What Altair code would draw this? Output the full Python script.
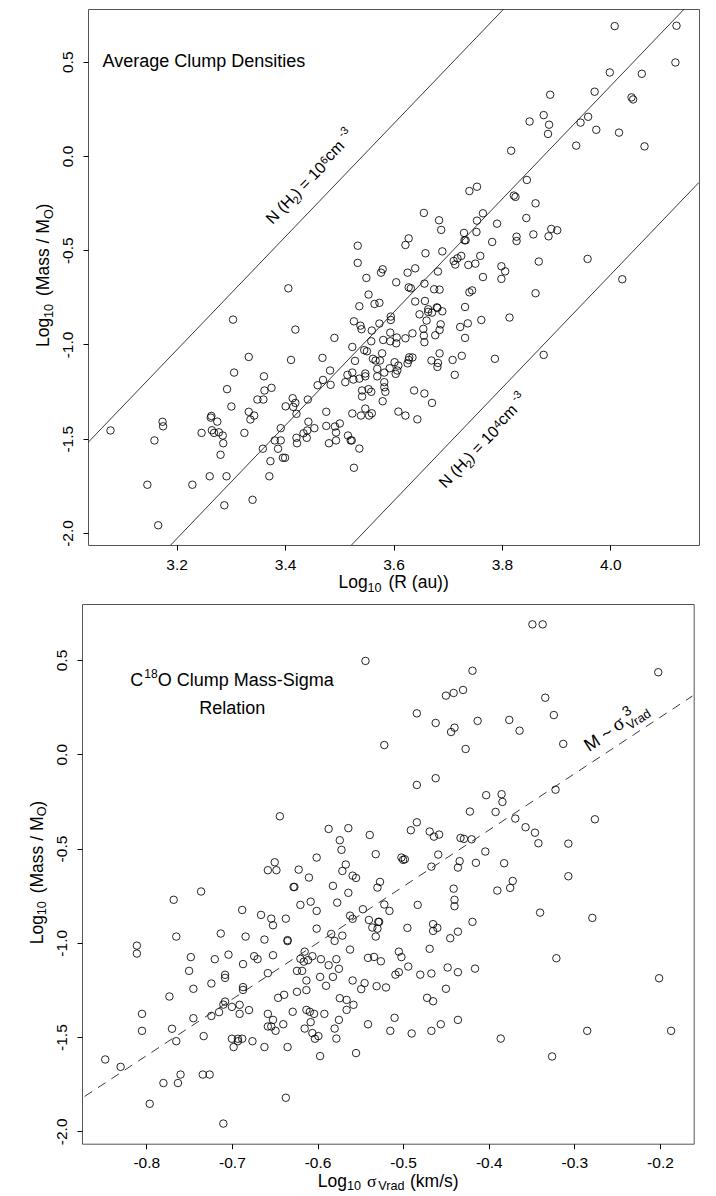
import altair as alt
import pandas as pd

FONT = 'Liberation Sans'
SERIF = 'Liberation Serif'

# top panel: clump radius vs mass
radius_log = [
    4.008, 4.122, 4.120, 3.999, 4.058, 3.971, 4.039, 4.042, 3.889, 3.877,
    3.851, 3.887, 3.885, 3.959, 3.945, 3.974, 4.016, 3.937, 4.063, 3.817,
    3.846, 3.754, 3.740, 3.822, 3.825, 3.862, 3.656, 3.765, 3.684, 3.754,
    3.845, 3.791, 3.688, 3.730, 3.753, 3.891, 3.902, 3.858, 3.886, 3.827,
    3.827, 3.628, 3.622, 3.731, 3.733, 3.782, 3.690, 3.659, 3.958, 3.725,
    3.760, 3.718, 3.711, 3.714, 3.751, 3.738, 3.868, 3.799, 3.806, 3.640,
    3.580, 3.577, 3.626, 3.682, 3.765, 3.799, 3.550, 3.605, 4.022, 3.657,
    3.628, 3.632, 3.675, 3.685, 3.745, 3.740, 3.862, 3.554, 3.406, 3.534,
    3.534, 3.565, 3.574, 3.537, 3.527, 3.539, 3.541, 3.560, 3.574, 3.595,
    3.595, 3.491, 3.559, 3.524, 3.546, 3.581, 3.594, 3.594, 3.606, 3.605,
    3.622, 3.635, 3.655, 3.656, 3.657, 3.685, 3.687, 3.677, 3.723, 3.737,
    3.762, 3.732, 3.732, 3.648, 3.661, 3.640, 3.658, 3.664, 3.664, 3.671,
    3.680, 3.681, 3.690, 3.469, 3.483, 3.470, 3.460, 3.484, 3.511, 3.529,
    3.551, 3.579, 3.562, 3.567, 3.575, 3.602, 3.609, 3.593, 3.570, 3.583,
    3.607, 3.604, 3.570, 3.635, 3.629, 3.628, 3.626, 3.670, 3.685, 3.682,
    3.681, 3.709, 3.726, 3.713, 3.515, 3.524, 3.548, 3.548, 3.526, 3.537,
    3.583, 3.583, 3.585, 3.542, 3.554, 3.559, 3.542, 3.638, 3.657, 3.671,
    3.580, 3.548, 3.476, 3.524, 3.540, 3.555, 3.560, 3.609, 3.622, 3.644,
    3.476, 3.492, 3.501, 3.494, 3.516, 3.521, 3.523, 3.494, 3.481, 3.537,
    3.527, 3.304, 3.419, 3.333, 3.411, 3.306, 3.361, 3.293, 3.362, 3.375,
    3.349, 3.360, 3.414, 3.419, 3.442, 3.401, 3.415, 3.301, 3.333, 3.421,
    3.264, 3.263, 3.343, 3.336, 3.275, 3.174, 3.175, 3.443, 3.454, 3.078,
    3.265, 3.269, 3.278, 3.285, 3.246, 3.325, 3.392, 3.441, 3.434, 3.421,
    3.440, 3.381, 3.392, 3.159, 3.286, 3.422, 3.359, 3.387, 3.281, 3.396,
    3.400, 3.373, 3.261, 3.292, 3.371, 3.146, 3.229, 3.340, 3.288, 3.166,
    3.877, 3.787, 3.814,
]
radius_mass = [
    0.689, 0.691, 0.496, 0.443, 0.436, 0.341, 0.311, 0.300, 0.325, 0.217,
    0.183, 0.166, 0.117, 0.208, 0.177, 0.139, 0.124, 0.055, 0.051, 0.028,
    -0.127, -0.163, -0.186, -0.210, -0.217, -0.251, -0.302, -0.304, -0.341, -0.343,
    -0.329, -0.359, -0.392, -0.408, -0.403, -0.387, -0.394, -0.416, -0.426, -0.428,
    -0.451, -0.437, -0.472, -0.447, -0.447, -0.456, -0.506, -0.516, -0.546, -0.530,
    -0.530, -0.543, -0.557, -0.576, -0.571, -0.578, -0.560, -0.585, -0.612, -0.596,
    -0.601, -0.619, -0.619, -0.613, -0.642, -0.652, -0.647, -0.670, -0.654, -0.677,
    -0.697, -0.702, -0.707, -0.709, -0.713, -0.723, -0.728, -0.735, -0.702, -0.476,
    -0.567, -0.785, -0.779, -0.797, -0.877, -0.900, -0.919, -0.926, -0.889, -0.852,
    -0.870, -0.965, -0.983, -1.013, -1.030, -0.976, -0.937, -0.983, -0.963, -0.994,
    -0.967, -0.941, -0.917, -0.953, -0.988, -0.923, -0.893, -0.951, -0.907, -0.888,
    -0.870, -0.965, -0.801, -0.840, -0.873, -0.772, -0.769, -0.813, -0.827, -0.831,
    -0.803, -0.806, -0.824, -1.071, -1.138, -1.188, -1.216, -1.214, -1.200, -1.087,
    -1.036, -1.047, -1.076, -1.085, -1.085, -1.094, -1.112, -1.126, -1.129, -1.149,
    -1.138, -1.156, -1.169, -1.069, -1.068, -1.082, -1.100, -1.085, -1.047, -1.098,
    -1.119, -1.082, -1.060, -1.161, -1.161, -1.149, -1.154, -1.169, -1.186, -1.181,
    -1.200, -1.227, -1.251, -1.244, -1.237, -1.251, -1.276, -1.244, -1.260, -1.310,
    -1.301, -1.340, -1.357, -1.366, -1.377, -1.377, -1.365, -1.356, -1.377, -1.397,
    -1.432, -1.435, -1.419, -1.467, -1.483, -1.509, -1.509, -1.509, -1.524, -1.552,
    -1.654, -0.868, -0.921, -1.066, -1.082, -1.149, -1.169, -1.237, -1.244, -1.230,
    -1.292, -1.292, -1.285, -1.310, -1.292, -1.328, -1.331, -1.329, -1.357, -1.368,
    -1.379, -1.388, -1.377, -1.398, -1.409, -1.410, -1.434, -1.410, -1.444, -1.456,
    -1.455, -1.469, -1.466, -1.483, -1.469, -1.469, -1.444, -1.456, -1.471, -1.495,
    -1.495, -1.509, -1.509, -1.509, -1.524, -1.524, -1.553, -1.553, -1.585, -1.601,
    -1.601, -1.619, -1.699, -1.699, -1.699, -1.744, -1.744, -1.824, -1.853, -1.959,
    -1.055, -1.076, -0.857,
]

# bottom panel: velocity dispersion vs mass
sigma_log = [
    -0.349, -0.337, -0.544, -0.202, -0.419, -0.430, -0.441, -0.450, -0.334, -0.484,
    -0.324, -0.462, -0.413, -0.376, -0.440, -0.444, -0.364, -0.522, -0.313, -0.427,
    -0.462, -0.484, -0.403, -0.385, -0.384, -0.322, -0.422, -0.392, -0.369, -0.276,
    -0.484, -0.491, -0.357, -0.346, -0.469, -0.458, -0.464, -0.539, -0.433, -0.429,
    -0.420, -0.342, -0.307, -0.404, -0.532, -0.459, -0.502, -0.500, -0.498, -0.434,
    -0.436, -0.415, -0.382, -0.467, -0.307, -0.527, -0.530, -0.372, -0.375, -0.441,
    -0.390, -0.340, -0.279, -0.440, -0.440, -0.483, -0.522, -0.516, -0.547, -0.419,
    -0.540, -0.529, -0.528, -0.536, -0.530, -0.495, -0.465, -0.460, -0.465, -0.436,
    -0.445, -0.532, -0.469, -0.505, -0.502, -0.321, -0.541, -0.534, -0.526, -0.494,
    -0.448, -0.416, -0.436, -0.505, -0.509, -0.480, -0.467, -0.201, -0.545, -0.531,
    -0.520, -0.450, -0.549, -0.472, -0.465, -0.510, -0.436, -0.541, -0.456, -0.515,
    -0.490, -0.467, -0.386, -0.285, -0.187, -0.326, -0.584, -0.571, -0.580, -0.615,
    -0.562, -0.620, -0.616, -0.611, -0.606, -0.596, -0.578, -0.587, -0.575, -0.624,
    -0.618, -0.582, -0.597, -0.559, -0.613, -0.590, -0.624, -0.613, -0.574, -0.566,
    -0.558, -0.566, -0.629, -0.613, -0.609, -0.604, -0.592, -0.608, -0.575, -0.615,
    -0.580, -0.606, -0.599, -0.603, -0.578, -0.597, -0.555, -0.587, -0.564, -0.574,
    -0.572, -0.601, -0.622, -0.610, -0.627, -0.628, -0.567, -0.571, -0.559, -0.555,
    -0.582, -0.564, -0.608, -0.620, -0.601, -0.577, -0.562, -0.559, -0.601, -0.768,
    -0.688, -0.666, -0.654, -0.652, -0.637, -0.713, -0.765, -0.684, -0.662, -0.635,
    -0.635, -0.811, -0.811, -0.748, -0.720, -0.704, -0.674, -0.670, -0.652, -0.687,
    -0.750, -0.708, -0.708, -0.658, -0.724, -0.745, -0.687, -0.687, -0.773, -0.639,
    -0.646, -0.708, -0.710, -0.700, -0.691, -0.680, -0.715, -0.724, -0.691, -0.658,
    -0.805, -0.745, -0.652, -0.640, -0.658, -0.654, -0.649, -0.770, -0.805, -0.733,
    -0.700, -0.693, -0.688, -0.693, -0.765, -0.676, -0.698, -0.662, -0.635, -0.848,
    -0.830, -0.760, -0.734, -0.726, -0.780, -0.763, -0.637, -0.796, -0.710, -0.644,
    -0.650, -0.658, -0.648, -0.736,
]
sigma_mass = [
    0.689, 0.689, 0.495, 0.435, 0.443, 0.341, 0.325, 0.311, 0.300, 0.217,
    0.208, 0.166, 0.177, 0.182, 0.141, 0.118, 0.125, 0.049, 0.055, 0.028,
    -0.127, -0.163, -0.217, -0.212, -0.253, -0.188, -0.304, -0.306, -0.341, -0.345,
    -0.361, -0.403, -0.387, -0.416, -0.410, -0.426, -0.437, -0.428, -0.444, -0.449,
    -0.451, -0.472, -0.474, -0.516, -0.530, -0.532, -0.548, -0.560, -0.557, -0.567,
    -0.601, -0.576, -0.578, -0.596, -0.647, -0.677, -0.707, -0.672, -0.709, -0.713,
    -0.723, -0.840, -0.868, -0.772, -0.806, -0.799, -0.797, -0.831, -0.822, -0.889,
    -0.879, -0.889, -0.889, -0.919, -0.925, -0.921, -0.901, -0.921, -0.937, -0.941,
    -0.976, -0.967, -1.032, -1.047, -1.076, -1.082, -1.080, -1.075, -1.098, -1.126,
    -1.131, -1.137, -1.156, -1.156, -1.169, -1.169, -1.163, -1.188, -1.214, -1.230,
    -1.237, -1.244, -1.246, -1.292, -1.310, -1.398, -1.409, -1.432, -1.432, -1.467,
    -1.481, -1.467, -1.508, -1.467, -1.467, -1.603, -0.953, -0.962, -0.990, -1.047,
    -1.036, -1.085, -1.100, -1.092, -1.071, -1.087, -1.087, -1.119, -1.138, -1.149,
    -1.149, -1.181, -1.181, -1.200, -1.200, -1.228, -1.260, -1.251, -1.294, -1.303,
    -1.329, -1.356, -1.366, -1.356, -1.366, -1.377, -1.377, -1.421, -1.409, -1.455,
    -1.455, -1.479, -1.495, -1.509, -1.508, -1.601, -1.585, -0.396, -0.392, -0.456,
    -0.507, -0.548, -0.612, -0.654, -0.704, -0.704, -0.585, -0.619, -0.644, -0.656,
    -0.698, -0.735, -0.782, -0.799, -0.831, -0.787, -0.856, -0.873, -0.925, -0.772,
    -0.826, -0.852, -0.872, -0.907, -0.872, -0.951, -0.967, -0.967, -0.983, -0.986,
    -0.991, -1.015, -1.057, -1.076, -1.087, -1.063, -1.071, -1.087, -1.066, -1.113,
    -1.149, -1.170, -1.186, -1.161, -1.216, -1.244, -1.235, -1.250, -1.285, -1.276,
    -1.292, -1.312, -1.328, -1.340, -1.329, -1.357, -1.368, -1.388, -1.377, -1.377,
    -1.377, -1.400, -1.409, -1.432, -1.444, -1.444, -1.467, -1.456, -1.467, -1.495,
    -1.509, -1.509, -1.509, -1.522, -1.522, -1.522, -1.553, -1.553, -1.553, -1.619,
    -1.658, -1.699, -1.699, -1.699, -1.744, -1.744, -1.822, -1.854, -1.959, -0.329,
    -0.573, -0.615, -0.615, -0.728,
]

# density lines (top) and sigma^3 line (bottom), end points
high_x = [3.0365, 3.809]
high_y = [-1.52, 0.797]
mid_x = [3.189, 4.142]
mid_y = [-2.064, 0.797]
low_x = [3.5225, 4.1635]
low_y = [-2.064, -0.14]
sig3_x = [-0.872, -0.162]
sig3_y = [-1.815, 0.309]

mass_ticks = [-2.0, -1.5, -1.0, -0.5, 0.0, 0.5]
r_ticks = [3.2, 3.4, 3.6, 3.8, 4.0]
sigma_ticks = [-0.8, -0.7, -0.6, -0.5, -0.4, -0.3, -0.2]

LABEL = "(datum.value < 0 ? '-' : '') + format(abs(datum.value), '.1f')"
TOP_LEFT, TOP_TOP = 87.5, 8
BOT_LEFT, BOT_TOP = 81, 604


def axis_x(values):
    return alt.Axis(values=values, labelExpr=LABEL, title=None, grid=False, domain=False,
                    tickSize=5, tickColor='black', labelFont=FONT, labelFontSize=15.5,
                    labelColor='black', labelPadding=7)


def axis_y():
    return alt.Axis(values=mass_ticks, labelExpr=LABEL, title=None, grid=False, domain=False,
                    tickSize=5, tickColor='black', labelFont=FONT, labelFontSize=15.5,
                    labelColor='black', labelAngle=270, labelAlign='center',
                    labelBaseline='bottom', labelPadding=8)


def label(text, x, y, left, top, size=18, angle=0, font=FONT):
    # x, y are page pixels
    return (
        alt.Chart(pd.DataFrame({'t': [text]}))
        .mark_text(align='left', baseline='alphabetic', fontSize=size, angle=angle,
                   font=font, color='black')
        .encode(text='t:N', x=alt.value(x - left), y=alt.value(y - top))
    )


def line(xs, ys, sx, sy, ax, ay, dash=None):
    kw = {'strokeDash': dash} if dash else {}
    return (
        alt.Chart(pd.DataFrame({'x': xs, 'y': ys}))
        .mark_line(clip=True, color='#222222', strokeWidth=0.9, **kw)
        .encode(x=alt.X('x:Q', scale=sx, axis=ax), y=alt.Y('y:Q', scale=sy, axis=ay))
    )


def left_edge(left):
    # invisible mark, keeps the panel's left bound at the page margin
    return (
        alt.Chart(pd.DataFrame({'a': [0]}))
        .mark_rule(opacity=0)
        .encode(x=alt.value(9 - left), y=alt.value(0), y2=alt.value(1))
    )


def spacer():
    return (
        alt.Chart(pd.DataFrame({'a': [0]}))
        .mark_rule(opacity=0)
        .encode(x=alt.value(0), y=alt.value(0), y2=alt.value(1))
        .properties(width=1, height=1, view=alt.ViewConfig(stroke=None))
    )


# top panel
x_top = alt.Scale(domain=[3.0365, 4.1635], nice=False, zero=False)
y_top = alt.Scale(domain=[-2.0637, 0.7798], nice=False, zero=False)
ax_r, ay_top = axis_x(r_ticks), axis_y()

points_top = (
    alt.Chart(pd.DataFrame({'r': radius_log, 'm': radius_mass}))
    .mark_point(filled=False, size=56, color='black', strokeWidth=0.85, opacity=1)
    .encode(x=alt.X('r:Q', scale=x_top, axis=ax_r),
            y=alt.Y('m:Q', scale=y_top, axis=ay_top))
)

L, T = TOP_LEFT, TOP_TOP
texts_top = [
    label('Average Clump Densities', 102, 66, L, T),
    label('N (H', 272, 224, L, T, 16, 314),
    label('2', 297, 204, L, T, 11, 314),
    label(') = 10', 298, 197, L, T, 16, 314),
    label('6', 324, 164, L, T, 11, 314),
    label('cm', 330, 161, L, T, 16, 314),
    label('-3', 342, 137, L, T, 11, 314),
    label('N (H', 445, 488, L, T, 16, 314),
    label('2', 470, 468, L, T, 11, 314),
    label(') = 10', 471, 461, L, T, 16, 314),
    label('4', 497, 428, L, T, 11, 314),
    label('cm', 503, 425, L, T, 16, 314),
    label('-3', 515, 401, L, T, 11, 314),
    label('Log', 338, 587, L, T, 17.5),
    label('10', 367, 590.5, L, T, 12.6),
    label('(R (au))', 388, 587, L, T, 17.5),
    label('Log', 48.3, 346, L, T, 17.5, 270),
    label('10', 52, 317, L, T, 12.6, 270),
    label('(Mass / M', 48.3, 295, L, T, 17.5, 270),
    label('O', 52, 218, L, T, 12.6, 270),
    label(')', 48.3, 208.5, L, T, 17.5, 270),
]

top = alt.layer(
    points_top,
    line(high_x, high_y, x_top, y_top, ax_r, ay_top),
    line(mid_x, mid_y, x_top, y_top, ax_r, ay_top),
    line(low_x, low_y, x_top, y_top, ax_r, ay_top),
    left_edge(L),
    *texts_top,
).properties(width=611, height=536)

# bottom panel
x_bot = alt.Scale(domain=[-0.8751, -0.1606], nice=False, zero=False)
y_bot = alt.Scale(domain=[-2.0657, 0.797], nice=False, zero=False)
ax_s, ay_bot = axis_x(sigma_ticks), axis_y()

points_bot = (
    alt.Chart(pd.DataFrame({'s': sigma_log, 'm': sigma_mass}))
    .mark_point(filled=False, size=56, color='black', strokeWidth=0.85, opacity=1)
    .encode(x=alt.X('s:Q', scale=x_bot, axis=ax_s),
            y=alt.Y('m:Q', scale=y_bot, axis=ay_bot))
)

L, T = BOT_LEFT, BOT_TOP
texts_bot = [
    label('C', 129.3, 686, L, T),
    label('18', 143.3, 677.7, L, T, 12),
    label('O Clump Mass-Sigma', 156.7, 686, L, T),
    label('Relation', 198.3, 713.7, L, T),
    label('M ~', 588, 752, L, T, 18, 327),
    label('\u03c3', 616, 732, L, T, 20, 327, SERIF),
    label('3', 625, 717, L, T, 14, 327),
    label('Vrad', 629, 730, L, T, 12.6, 327),
    label('Log', 316.7, 1186.7, L, T, 17.5),
    label('10', 346, 1190.2, L, T, 12.6),
    label('\u03c3', 366, 1186.7, L, T, 17.5, 0, SERIF),
    label('Vrad', 377.3, 1190.2, L, T, 12.6),
    label('(km/s)', 409, 1186.7, L, T, 17.5),
    label('Log', 41.7, 944.3, L, T, 17.5, 270),
    label('10', 45.4, 915.3, L, T, 12.6, 270),
    label('(Mass / M', 41.7, 893.3, L, T, 17.5, 270),
    label('O', 45.4, 816.3, L, T, 12.6, 270),
    label(')', 41.7, 806.8, L, T, 17.5, 270),
]

bottom = alt.layer(
    points_bot,
    line(sig3_x, sig3_y, x_bot, y_bot, ax_s, ay_bot, [9, 7]),
    left_edge(L),
    *texts_bot,
).properties(width=611.7, height=539.7)

chart = (
    alt.vconcat(
        alt.hconcat(spacer(), top, spacing=0),
        alt.hconcat(spacer(), bottom, spacing=0),
        spacing=8,
    )
    .properties(padding=0)
    .configure_view(stroke='#555555', strokeWidth=1)
)

chart.save("out.html", embed_options={"renderer": "svg", "actions": False})
